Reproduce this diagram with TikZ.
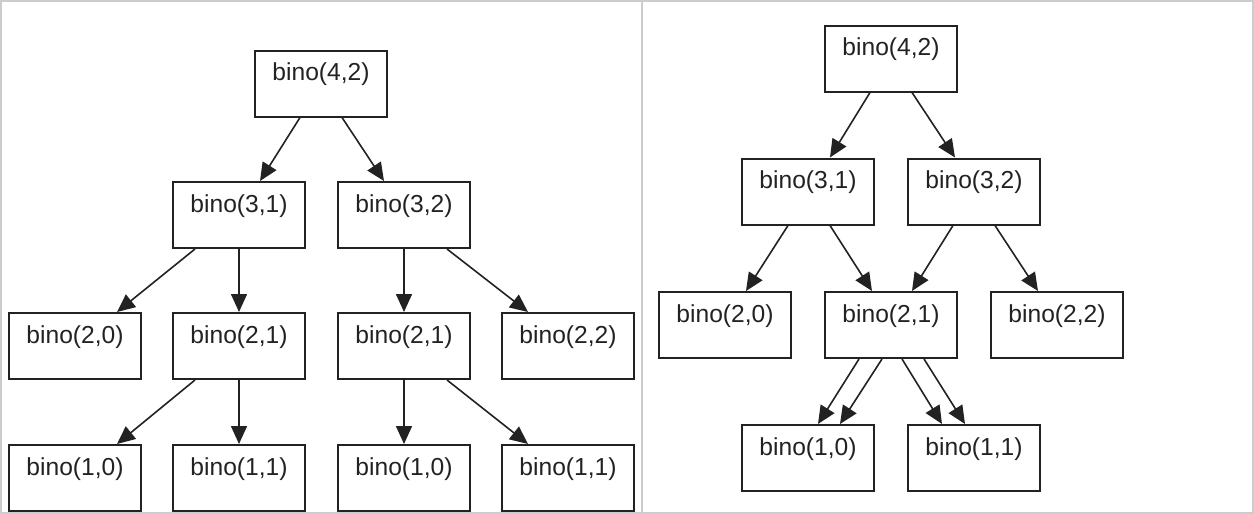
\documentclass[tikz,border=0pt]{standalone}
\usepackage{fontspec}
\setmainfont{Liberation Sans}
\usetikzlibrary{arrows.meta}
\definecolor{framegray}{HTML}{CCCCCC}
\definecolor{inkgray}{HTML}{222222}
\tikzset{
    call/.style={draw=inkgray, line width=1pt, rectangle, inner sep=0pt,
        minimum width=66pt, minimum height=33pt,
        text height=15.2pt, text depth=17.8pt, text=inkgray,
        font=\fontsize{12.3}{14}\selectfont},
    edge/.style={draw=inkgray, line width=0.8pt,
        -{Triangle[length=9pt,width=8pt]}}
}
\begin{document}
\begin{tikzpicture}[x=0.5pt,y=-0.5pt]
    \useasboundingbox (0,0) rectangle (1254,514);
    \draw[framegray, line width=1pt] (1,1) rectangle (1253,513);
    \draw[framegray, line width=1pt] (642,1) -- (642,513);

    \node[call] (L42) at (321,83.5) {bino(4,2)};
    \node[call] (L31) at (239,215) {bino(3,1)};
    \node[call] (L32) at (404,215) {bino(3,2)};
    \node[call] (L20) at (75,346) {bino(2,0)};
    \node[call] (L21a) at (239,346) {bino(2,1)};
    \node[call] (L21b) at (404,346) {bino(2,1)};
    \node[call] (L22) at (568,346) {bino(2,2)};
    \node[call] (L10a) at (75,478) {bino(1,0)};
    \node[call] (L11a) at (239,478) {bino(1,1)};
    \node[call] (L10b) at (404,478) {bino(1,0)};
    \node[call] (L11b) at (568,478) {bino(1,1)};

    \draw[edge] ([xshift=-10.5pt]L42.south) -- ([xshift=10.5pt]L31.north);
    \draw[edge] ([xshift=10.5pt]L42.south) -- ([xshift=-10pt]L32.north);
    \draw[edge] ([xshift=-22pt]L31.south) -- ([xshift=21pt]L20.north);
    \draw[edge] (L31.south) -- (L21a.north);
    \draw[edge] (L32.south) -- (L21b.north);
    \draw[edge] ([xshift=21.5pt]L32.south) -- ([xshift=-20pt]L22.north);
    \draw[edge] ([xshift=-22pt]L21a.south) -- ([xshift=21pt]L10a.north);
    \draw[edge] (L21a.south) -- (L11a.north);
    \draw[edge] (L21b.south) -- (L10b.north);
    \draw[edge] ([xshift=21.5pt]L21b.south) -- ([xshift=-20pt]L11b.north);

    \node[call] (R42) at (891,58.5) {bino(4,2)};
    \node[call] (R31) at (808,191.5) {bino(3,1)};
    \node[call] (R32) at (974,191.5) {bino(3,2)};
    \node[call] (R20) at (725,325) {bino(2,0)};
    \node[call] (R21) at (891,325) {bino(2,1)};
    \node[call] (R22) at (1057,325) {bino(2,2)};
    \node[call] (R10) at (808,458) {bino(1,0)};
    \node[call] (R11) at (974,458) {bino(1,1)};

    \draw[edge] ([xshift=-10.5pt]R42.south) -- ([xshift=11pt]R31.north);
    \draw[edge] ([xshift=10.5pt]R42.south) -- ([xshift=-9.5pt]R32.north);
    \draw[edge] ([xshift=-10pt]R31.south) -- ([xshift=10.5pt]R20.north);
    \draw[edge] ([xshift=11pt]R31.south) -- ([xshift=-9.5pt]R21.north);
    \draw[edge] ([xshift=-10.5pt]R32.south) -- ([xshift=10.5pt]R21.north);
    \draw[edge] ([xshift=10.5pt]R32.south) -- ([xshift=-9.5pt]R22.north);
    \draw[edge] ([xshift=-16pt]R21.south) -- ([xshift=5pt]R10.north);
    \draw[edge] ([xshift=-4.5pt]R21.south) -- ([xshift=16pt]R10.north);
    \draw[edge] ([xshift=5.5pt]R21.south) -- ([xshift=-16pt]R11.north);
    \draw[edge] ([xshift=16.5pt]R21.south) -- ([xshift=-4.5pt]R11.north);
\end{tikzpicture}
\end{document}
